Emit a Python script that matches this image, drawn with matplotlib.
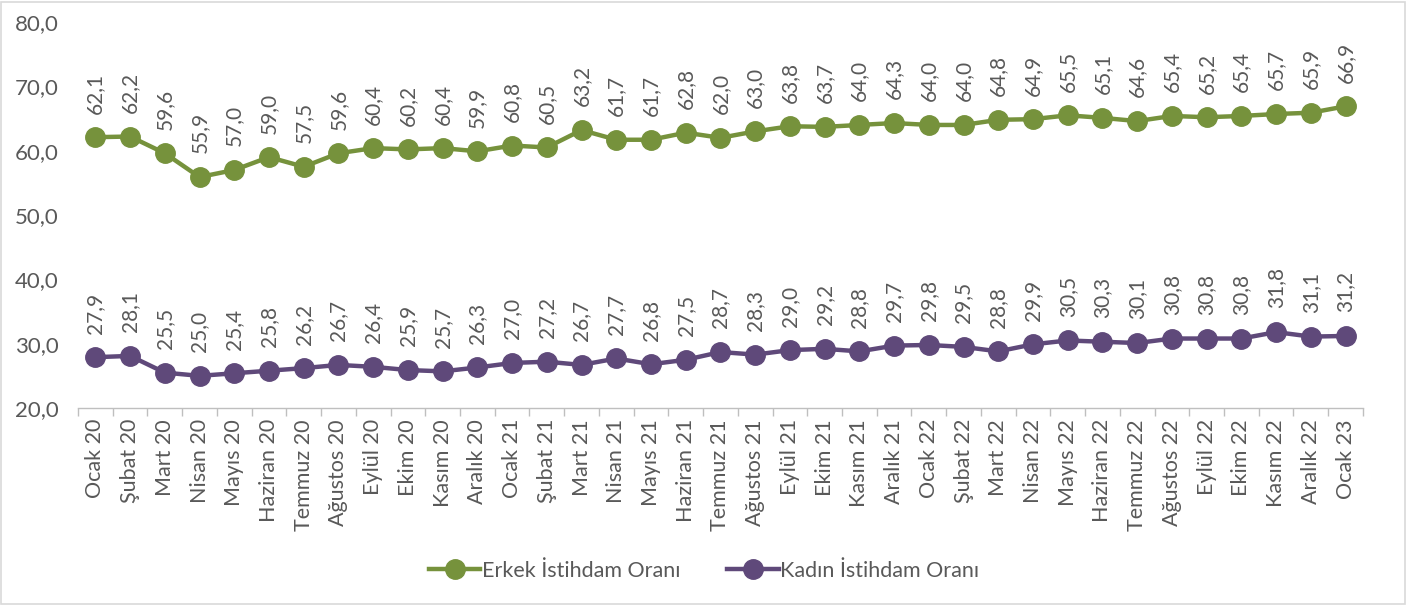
import matplotlib.pyplot as plt
from matplotlib.patches import Rectangle

# Month labels
aylar = ['Ocak', 'Şubat', 'Mart', 'Nisan', 'Mayıs', 'Haziran', 'Temmuz',
         'Ağustos', 'Eylül', 'Ekim', 'Kasım', 'Aralık']
etiketler = [f'{a} {y}' for y in ['20', '21', '22'] for a in aylar] + ['Ocak 23']

erkek = [62.1, 62.2, 59.6, 55.9, 57.0, 59.0, 57.5, 59.6, 60.4, 60.2, 60.4, 59.9,
         60.8, 60.5, 63.2, 61.7, 61.7, 62.8, 62.0, 63.0, 63.8, 63.7, 64.0, 64.3,
         64.0, 64.0, 64.8, 64.9, 65.5, 65.1, 64.6, 65.4, 65.2, 65.4, 65.7, 65.9, 66.9]
kadin = [27.9, 28.1, 25.5, 25.0, 25.4, 25.8, 26.2, 26.7, 26.4, 25.9, 25.7, 26.3,
         27.0, 27.2, 26.7, 27.7, 26.8, 27.5, 28.7, 28.3, 29.0, 29.2, 28.8, 29.7,
         29.8, 29.5, 28.8, 29.9, 30.5, 30.3, 30.1, 30.8, 30.8, 30.8, 31.8, 31.1, 31.2]

plt.rcParams['font.family'] = ['Lato', 'DejaVu Sans']
gri = '#595959'

fig = plt.figure(figsize=(14.08, 6.05), dpi=100)
ax = fig.add_axes([0.0554, 0.3256, 0.9126, 0.638])

x = list(range(len(etiketler)))
ax.plot(x, erkek, color='#76923C', lw=3.2, marker='o', ms=14, label='Erkek İstihdam Oranı')
ax.plot(x, kadin, color='#5F497A', lw=3.2, marker='o', ms=14, label='Kadın İstihdam Oranı')

# Data labels
for seri in [erkek, kadin]:
    for i, v in enumerate(seri):
        ax.annotate(f'{v:.1f}'.replace('.', ','), (i, v), xytext=(0, 17),
                    textcoords='offset points', rotation=90, ha='center',
                    va='bottom', fontsize=15, color=gri)

ax.set_xlim(-0.5, len(etiketler) - 0.5)
ax.set_ylim(20, 80)
ax.set_yticks(range(20, 81, 10))
ax.set_yticklabels([f'{v},0' for v in range(20, 81, 10)], fontsize=16, color=gri)
ax.set_xticks(x)
ax.set_xticklabels(etiketler, rotation=90, fontsize=15.5, color=gri)
ax.set_xticks([i - 0.5 for i in range(len(etiketler) + 1)], minor=True)
ax.tick_params(axis='x', which='major', length=0, pad=8)
ax.tick_params(axis='x', which='minor', length=6, color='#BFBFBF', width=1)
ax.tick_params(axis='y', length=0, pad=14)

for s in ['top', 'right', 'left']:
    ax.spines[s].set_visible(False)
ax.spines['bottom'].set_color('#BFBFBF')
ax.spines['bottom'].set_linewidth(1)

fig.legend(loc='center', bbox_to_anchor=(0.5, 0.057), ncol=2, frameon=False,
           fontsize=15.5, labelcolor=gri, handlelength=2.4, columnspacing=2.2,
           handletextpad=0.05)

fig.patches.append(Rectangle((0.001, 0.002), 0.997, 0.995, transform=fig.transFigure,
                             fill=False, edgecolor='#D9D9D9', lw=1.2))

fig.savefig('out.png', dpi=100)
